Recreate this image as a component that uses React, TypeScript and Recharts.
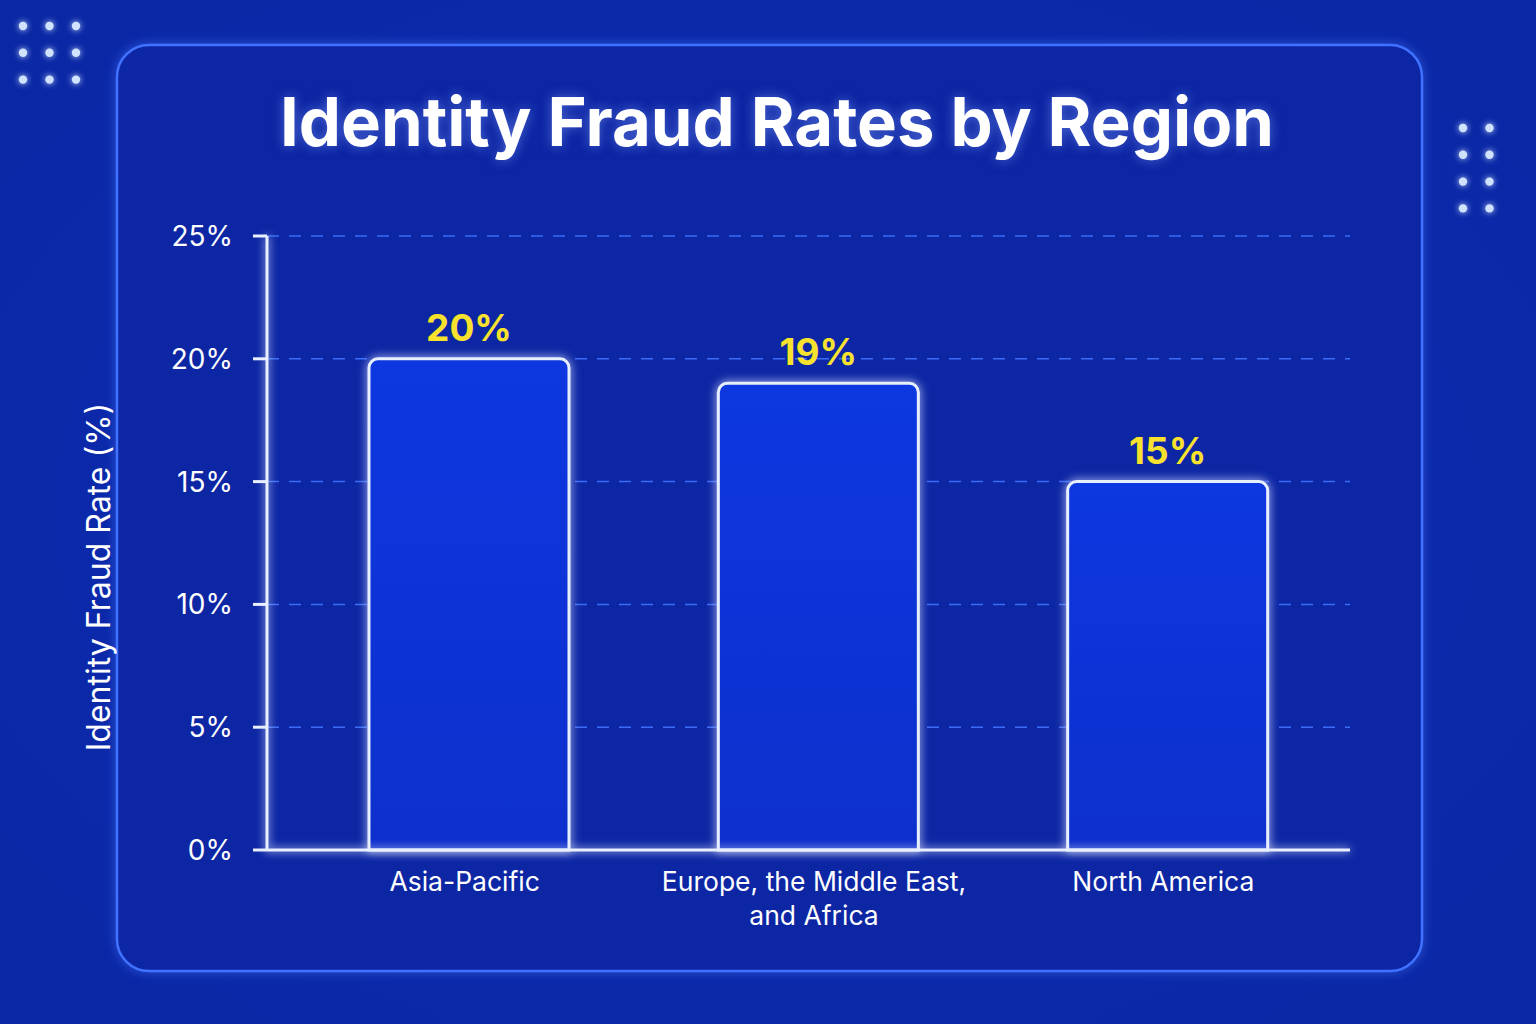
import React from 'react';
import { BarChart, Bar, XAxis, YAxis, CartesianGrid, LabelList } from 'recharts';

const REGIONS = ['Asia-Pacific', 'Europe, the Middle East, and Africa', 'North America'];
const FRAUD_RATES = [20, 19, 15];
const Y_TICKS = [0, 5, 10, 15, 20, 25];

const FONT = 'Inter, "Noto Sans", sans-serif';
const BG = '#0b29aa';

const data = REGIONS.map((region, i) => ({ region, rate: FRAUD_RATES[i] }));

// break a label into lines of at most `max` characters
const wrap = (s: string, max: number) => {
  const lines: string[] = [];
  let cur = '';
  s.split(' ').forEach((w) => {
    const next = cur ? cur + ' ' + w : w;
    if (next.length > max && cur) {
      lines.push(cur);
      cur = w;
    } else cur = next;
  });
  if (cur) lines.push(cur);
  return lines;
};

const XTick = (props: any) => {
  const { x, y, payload } = props;
  const lines = wrap(String(payload.value), 24);
  const cx = x - 4;
  return (
    <text x={cx} y={y + 33} textAnchor="middle" fill="#ffffff" fontSize={26.5} fontFamily={FONT}>
      {lines.map((l, i) => (
        <tspan key={i} x={cx} dy={i === 0 ? 0 : 34}>{l}</tspan>
      ))}
    </text>
  );
};

const YLabel = (props: any) => {
  const { viewBox } = props;
  const cx = viewBox.x + 11;
  const cy = viewBox.y + viewBox.height / 2 + 34;
  return (
    <text x={cx} y={cy} transform={`rotate(-90 ${cx} ${cy})`} textAnchor="middle"
      dominantBaseline="central" fill="#ffffff" fontSize={32} fontFamily={FONT}>
      Identity Fraud Rate (%)
    </text>
  );
};

const Dots = ({ cols, rows, left, top }: { cols: number; rows: number; left: number; top: number }) => {
  const items = [];
  for (let r = 0; r < rows; r++)
    for (let c = 0; c < cols; c++)
      items.push(<circle key={r + '-' + c} cx={left + c * 26.5} cy={top + r * 26.8} r={4.2} fill="#cfe3ff" filter="url(#dotGlow)" />);
  return <>{items}</>;
};

export default function App() {
  return (
    <div style={{ position: 'absolute', top: 0, left: 0, width: 1536, height: 1024, overflow: 'hidden',
      background: `radial-gradient(ellipse at 50% 50%, #0b2ab4 0%, ${BG} 60%, #0a27a4 100%)`, fontFamily: FONT }}>
      <svg width={1536} height={1024} style={{ position: 'absolute', left: 0, top: 0 }}>
        <defs>
          <filter id="glow" x="-20%" y="-20%" width="140%" height="140%">
            <feGaussianBlur in="SourceGraphic" stdDeviation="5" result="b" />
            <feMerge>
              <feMergeNode in="b" />
              <feMergeNode in="SourceGraphic" />
            </feMerge>
          </filter>
          <filter id="lineGlow" filterUnits="userSpaceOnUse" x="0" y="0" width="1536" height="1024">
            <feGaussianBlur in="SourceGraphic" stdDeviation="4" result="b" />
            <feMerge>
              <feMergeNode in="b" />
              <feMergeNode in="SourceGraphic" />
            </feMerge>
          </filter>
          <filter id="dotGlow" x="-100%" y="-100%" width="300%" height="300%">
            <feGaussianBlur in="SourceGraphic" stdDeviation="3" result="b" />
            <feMerge>
              <feMergeNode in="b" />
              <feMergeNode in="SourceGraphic" />
            </feMerge>
          </filter>
          <linearGradient id="barFill" x1="0" y1="0" x2="0" y2="1">
            <stop offset="0%" stopColor="#0c37e0" />
            <stop offset="100%" stopColor="#0a2fcc" />
          </linearGradient>
        </defs>
        <rect x={117} y={45} width={1305} height={926} rx={32} fill="#0a25a4" stroke="#3f72ff" strokeWidth={2.5} filter="url(#glow)" />
        <Dots cols={3} rows={3} left={23} top={26} />
        <Dots cols={2} rows={4} left={1463} top={128} />
      </svg>
      <div style={{ position: 'absolute', left: 0, top: 82, width: 1554, textAlign: 'center', color: '#ffffff',
        fontSize: 67, fontWeight: 700, lineHeight: '80px', textShadow: '0 0 12px rgba(140,170,255,0.5)' }}>
        Identity Fraud Rates by Region
      </div>
      <div style={{ position: 'absolute', left: 0, top: 0 }}>
        <BarChart width={1536} height={1024} data={data}
          margin={{ top: 236, right: 186, bottom: 74, left: 87 }}>
          <CartesianGrid vertical={false} stroke="#3a6cf5" strokeDasharray="12 10" strokeWidth={1.5} />
          <XAxis dataKey="region" tick={<XTick />} tickLine={false} height={100} padding={{ left: 27, right: 8 }}
            axisLine={{ stroke: '#e8f0ff', strokeWidth: 3, filter: 'url(#lineGlow)' }} interval={0} />
          <YAxis width={180} domain={[0, 25]} ticks={Y_TICKS} tickFormatter={(v: number) => `${v}%`}
            tick={{ fill: '#ffffff', fontSize: 28, fontFamily: FONT }} tickSize={14} tickMargin={20}
            tickLine={{ stroke: '#e8f0ff', strokeWidth: 3 }}
            axisLine={{ stroke: '#e8f0ff', strokeWidth: 3, filter: 'url(#lineGlow)' }}
            label={<YLabel />} />
          <Bar dataKey="rate" barSize={200} fill="url(#barFill)" stroke="#e6efff" strokeWidth={3}
            radius={[9, 9, 0, 0]} isAnimationActive={false} style={{ filter: 'url(#glow)' }}>
            <LabelList dataKey="rate" position="top" offset={18} formatter={(v: any) => `${v}%`}
              fill="#f8e22e" fontSize={37} fontWeight={700} fontFamily={FONT} />
          </Bar>
        </BarChart>
      </div>
    </div>
  );
}
